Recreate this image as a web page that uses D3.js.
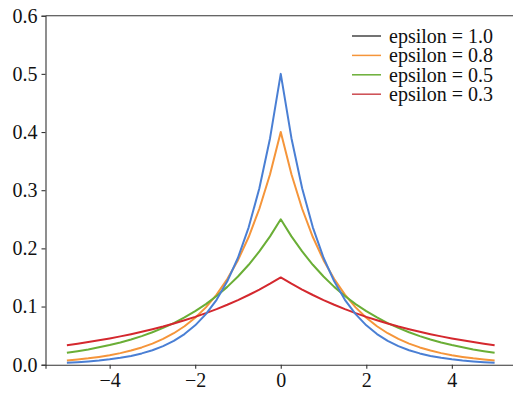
<!DOCTYPE html>
<html>
<head>
<meta charset="utf-8">
<script src="https://cdn.jsdelivr.net/npm/d3@7"></script>
<style>
  html, body { margin: 0; padding: 0; background: #fff; }
  svg { display: block; }
  svg text { font-family: "Liberation Serif", "Times New Roman", Times, "DejaVu Serif", serif !important; }
</style>
</head>
<body>
<div id="chart"></div>
<script>
// sample positions along x
const xs = [-5, -4.75, -4.5, -4.25, -4, -3.75, -3.5, -3.25, -3, -2.75, -2.5, -2.25, -2, -1.75, -1.5, -1.25, -1, -0.75, -0.5, -0.25,
  0, 0.25, 0.5, 0.75, 1, 1.25, 1.5, 1.75, 2, 2.25, 2.5, 2.75, 3, 3.25, 3.5, 3.75, 4, 4.25, 4.5, 4.75, 5];

// density values
const eps10 = [0.0034, 0.0043, 0.0056, 0.0071, 0.0092, 0.0118, 0.0151, 0.0194, 0.0249, 0.0320, 0.0410, 0.0527, 0.0677, 0.0869, 0.1116, 0.1433, 0.1839, 0.2362, 0.3033, 0.3894,
  0.5, 0.3894, 0.3033, 0.2362, 0.1839, 0.1433, 0.1116, 0.0869, 0.0677, 0.0527, 0.0410, 0.0320, 0.0249, 0.0194, 0.0151, 0.0118, 0.0092, 0.0071, 0.0056, 0.0043, 0.0034];
const eps08 = [0.0073, 0.0090, 0.0109, 0.0134, 0.0163, 0.0199, 0.0243, 0.0297, 0.0363, 0.0443, 0.0541, 0.0661, 0.0808, 0.0986, 0.1205, 0.1472, 0.1797, 0.2195, 0.2681, 0.3275,
  0.4, 0.3275, 0.2681, 0.2195, 0.1797, 0.1472, 0.1205, 0.0986, 0.0808, 0.0661, 0.0541, 0.0443, 0.0363, 0.0297, 0.0243, 0.0199, 0.0163, 0.0134, 0.0109, 0.0090, 0.0073];
const eps05 = [0.0205, 0.0233, 0.0263, 0.0299, 0.0338, 0.0383, 0.0434, 0.0492, 0.0558, 0.0632, 0.0716, 0.0812, 0.0920, 0.1042, 0.1181, 0.1338, 0.1516, 0.1718, 0.1947, 0.2206,
  0.25, 0.2206, 0.1947, 0.1718, 0.1516, 0.1338, 0.1181, 0.1042, 0.0920, 0.0812, 0.0716, 0.0632, 0.0558, 0.0492, 0.0434, 0.0383, 0.0338, 0.0299, 0.0263, 0.0233, 0.0205];
const eps03 = [0.0335, 0.0361, 0.0389, 0.0419, 0.0452, 0.0487, 0.0525, 0.0566, 0.0610, 0.0657, 0.0709, 0.0764, 0.0823, 0.0887, 0.0956, 0.1031, 0.1111, 0.1198, 0.1291, 0.1392,
  0.15, 0.1392, 0.1291, 0.1198, 0.1111, 0.1031, 0.0956, 0.0887, 0.0823, 0.0764, 0.0709, 0.0657, 0.0610, 0.0566, 0.0525, 0.0487, 0.0452, 0.0419, 0.0389, 0.0361, 0.0335];

const xTicks = [-4, -2, 0, 2, 4];
const yTicks = [0.0, 0.1, 0.2, 0.3, 0.4, 0.5, 0.6];
const legendLabels = ["epsilon = 1.0", "epsilon = 0.8", "epsilon = 0.5", "epsilon = 0.3"];

const serif = "'Liberation Serif', 'Times New Roman', Times, 'DejaVu Serif', serif";

const W = 513, H = 393;
const margin = {top: 15.7, right: -3, bottom: 28.3, left: 45.5};
const width = W - margin.left - margin.right;
const height = H - margin.top - margin.bottom;

const svg = d3.select("#chart").append("svg")
    .attr("width", W)
    .attr("height", H)
    .attr("font-family", serif);

const g = svg.append("g")
    .attr("transform", `translate(${margin.left},${margin.top})`);

const x = d3.scaleLinear().domain([-5.5, 5.5]).range([0, width]);
const y = d3.scaleLinear().domain([0, 0.6]).range([height, 0]);

// axes
const xAxis = g.append("g")
    .attr("transform", `translate(0,${height})`)
    .call(d3.axisBottom(x).tickValues(xTicks).tickSize(4).tickPadding(4)
      .tickFormat(d => d < 0 ? "\u2212" + Math.abs(d) : d));
const yAxis = g.append("g")
    .call(d3.axisLeft(y).tickValues(yTicks).tickSize(4).tickPadding(4).tickFormat(d3.format(".1f")));

[xAxis, yAxis].forEach(a => {
  a.attr("font-family", serif).attr("font-size", 20);
  a.select(".domain").attr("stroke", "#333").attr("stroke-width", 1.1);
  a.selectAll(".tick line").attr("stroke", "#333").attr("stroke-width", 1.1);
  a.selectAll(".tick text").attr("fill", "#111");
});

// top spine
g.append("line")
    .attr("x1", 0).attr("x2", width)
    .attr("y1", 0).attr("y2", 0)
    .attr("stroke", "#333").attr("stroke-width", 1.1);

const line = d3.line()
    .x((d, i) => x(xs[i]))
    .y(d => y(d));

const series = [
  {vals: eps08, color: "#f5953a"},
  {vals: eps05, color: "#6aae36"},
  {vals: eps03, color: "#d4282e"},
  {vals: eps10, color: "#4a7fd4"}
];

series.forEach(s => {
  g.append("path")
      .datum(s.vals)
      .attr("fill", "none")
      .attr("stroke", s.color)
      .attr("stroke-width", 2)
      .attr("stroke-linejoin", "round")
      .attr("d", line);
});

// legend
const legendColors = ["#444444", "#f5953a", "#6aae36", "#cc4a50"];
const legend = svg.append("g").attr("transform", "translate(352,36)");
legendLabels.forEach((lab, i) => {
  const row = legend.append("g").attr("transform", `translate(0,${i * 19.4})`);
  row.append("line")
      .attr("x1", 0).attr("x2", 29)
      .attr("y1", 0).attr("y2", 0)
      .attr("stroke", legendColors[i])
      .attr("stroke-width", 1.5);
  row.append("text")
      .attr("x", 37)
      .attr("y", 0)
      .attr("dy", "0.35em")
      .attr("fill", "#111")
      .attr("font-size", 20)
      .text(lab);
});
</script>
</body>
</html>
